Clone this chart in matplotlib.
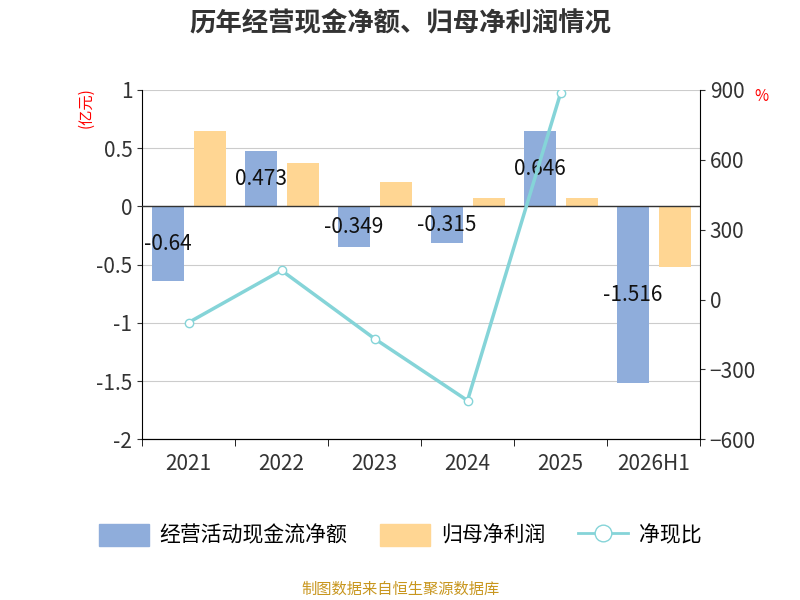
import matplotlib
matplotlib.use("Agg")
import matplotlib.pyplot as plt
import numpy as np

plt.rcParams['font.family'] = ['Noto Sans CJK SC', 'DejaVu Sans']

categories = ['2021', '2022', '2023', '2024', '2025', '2026H1']
cash_flow = [-0.64, 0.473, -0.349, -0.315, 0.646, -1.516]
net_profit = [0.65, 0.37, 0.21, 0.07, 0.07, -0.52]
ratio = [-99, 125, -168, -434, 885]

fig = plt.figure(figsize=(8, 6), dpi=100)
ax = fig.add_axes([0.1775, 0.268, 0.6975, 0.582])
x = np.arange(len(categories))
w = 0.34
ax.bar(x - 0.22, cash_flow, w, color='#8faddb', zorder=2)
ax.bar(x + 0.23, net_profit, w, color='#ffd693', zorder=2)
for xi, v in zip(x, cash_flow):
    ax.text(xi - 0.22, v / 2, str(v), ha='center', va='center', fontsize=15, color='#111', zorder=5)
ax.set_ylim(-2, 1)
ax.set_xlim(-0.47, 5.47)
ax.set_yticks([-2, -1.5, -1, -0.5, 0, 0.5, 1])
ax.set_yticklabels(['-2', '-1.5', '-1', '-0.5', '0', '0.5', '1'])
ax.grid(axis='y', color='#cccccc', zorder=0)
ax.axhline(0, color='#333', lw=1, zorder=3)
ax.set_xticks(x)
ax.set_xticklabels(categories)
ax.set_xticks(np.arange(-0.5, 6, 1), minor=True)
ax.tick_params(axis='x', which='major', length=0, pad=10)
ax.tick_params(axis='x', which='minor', length=5)
ax.tick_params(labelsize=15, colors='#333')
for s in ['top', 'right']:
    ax.spines[s].set_visible(False)
ax.text(-0.1, 0.95, '(亿元)', transform=ax.transAxes, rotation=90, color='red', fontsize=11, ha='center', va='center')

ax2 = ax.twinx()
ax2.plot(x[:len(ratio)], ratio, color='#85d4d8', lw=2.5, marker='o', markersize=6,
         markerfacecolor='white', markeredgecolor='#85d4d8', zorder=4)
ax2.set_ylim(-600, 900)
ax2.set_yticks([-600, -300, 0, 300, 600, 900])
ax2.tick_params(labelsize=15, colors='#333')
for s in ['top', 'left']:
    ax2.spines[s].set_visible(False)
ax2.text(1.11, 0.98, '%', transform=ax2.transAxes, color='red', fontsize=11, ha='center', va='center')

fig.text(0.5, 0.96, '历年经营现金净额、归母净利润情况', ha='center', va='center', fontsize=19, fontweight='bold', color='#333')

from matplotlib.patches import Patch
from matplotlib.lines import Line2D
handles = [Patch(color='#8faddb'), Patch(color='#ffd693'),
           Line2D([], [], color='#85d4d8', lw=2, marker='o', markersize=12, markerfacecolor='white')]
fig.legend(handles, ['经营活动现金流净额', '归母净利润', '净现比'], loc='center', bbox_to_anchor=(0.5, 0.108),
           ncol=3, frameon=False, fontsize=15, handlelength=2.4, handleheight=1.3,
           columnspacing=1.6, handletextpad=0.5)
fig.text(0.5, 0.018, '制图数据来自恒生聚源数据库', ha='center', va='center', fontsize=11, color='#c8961e')
fig.savefig('out.png')
